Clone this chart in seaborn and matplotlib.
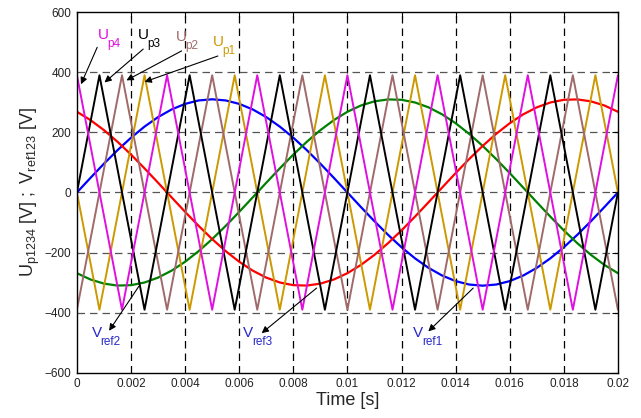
import matplotlib
matplotlib.use("Agg")
import matplotlib.pyplot as plt
import seaborn as sns
import pandas as pd
import numpy as np

# ---- data ----
t_ref = [round(0.0005 * k, 4) for k in range(41)]
v_ref1 = [0, 48.5, 95.8, 140.7, 182.2, 219.2, 250.8, 276.2, 294.8, 306.2, 310,
          306.2, 294.8, 276.2, 250.8, 219.2, 182.2, 140.7, 95.8, 48.5, 0,
          -48.5, -95.8, -140.7, -182.2, -219.2, -250.8, -276.2, -294.8, -306.2, -310,
          -306.2, -294.8, -276.2, -250.8, -219.2, -182.2, -140.7, -95.8, -48.5, 0]
v_ref3 = [268.5, 240.9, 207.4, 168.8, 126.1, 80.2, 32.4, -16.2, -64.5, -111.1, -155,
          -195.1, -230.4, -260.0, -283.2, -299.4, -308.3, -309.6, -303.2, -289.4, -268.5,
          -240.9, -207.4, -168.8, -126.1, -80.2, -32.4, 16.2, 64.5, 111.1, 155,
          195.1, 230.4, 260.0, 283.2, 299.4, 308.3, 309.6, 303.2, 289.4, 268.5]
v_ref2 = [-268.5, -289.4, -303.2, -309.6, -308.3, -299.4, -283.2, -260.0, -230.4, -195.1, -155,
          -111.1, -64.5, -16.2, 32.4, 80.2, 126.1, 168.8, 207.4, 240.9, 268.5,
          289.4, 303.2, 309.6, 308.3, 299.4, 283.2, 260.0, 230.4, 195.1, 155,
          111.1, 64.5, 16.2, -32.4, -80.2, -126.1, -168.8, -207.4, -240.9, -268.5]

t_up4 = [0, 0.001667, 0.003333, 0.005, 0.006667, 0.008333, 0.01, 0.011667,
         0.013333, 0.015, 0.016667, 0.018333, 0.02]
u_p4 = [390, -390, 390, -390, 390, -390, 390, -390, 390, -390, 390, -390, 390]
t_up2 = t_up4
u_p2 = [-390, 390, -390, 390, -390, 390, -390, 390, -390, 390, -390, 390, -390]
t_up3 = [0, 0.000833, 0.0025, 0.004167, 0.005833, 0.0075, 0.009167, 0.010833,
         0.0125, 0.014167, 0.015833, 0.0175, 0.019167, 0.02]
u_p3 = [0, 390, -390, 390, -390, 390, -390, 390, -390, 390, -390, 390, -390, 0]
t_up1 = t_up3
u_p1 = [0, -390, 390, -390, 390, -390, 390, -390, 390, -390, 390, -390, 390, 0]

x_ticks = [0, 0.002, 0.004, 0.006, 0.008, 0.01, 0.012, 0.014, 0.016, 0.018, 0.02]
x_tick_labels = ["0", "0.002", "0.004", "0.006", "0.008", "0.01", "0.012",
                 "0.014", "0.016", "0.018", "0.02"]
y_ticks = [-600, -400, -200, 0, 200, 400, 600]

# ---- style ----
sns.set_theme(style="white")
plt.rcParams["font.family"] = ["Liberation Sans", "DejaVu Sans"]
plt.rcParams["mathtext.fontset"] = "custom"
plt.rcParams["mathtext.rm"] = "Liberation Sans"
plt.rcParams["mathtext.it"] = "Liberation Sans"

fig = plt.figure(figsize=(6.41, 4.18), dpi=100)
ax = fig.add_axes([0.120, 0.108, 0.844, 0.863])

ref_df = pd.DataFrame({"t": t_ref * 3,
                       "v": v_ref1 + v_ref2 + v_ref3,
                       "s": ["ref1"] * 41 + ["ref2"] * 41 + ["ref3"] * 41})
sns.lineplot(data=ref_df, x="t", y="v", hue="s", estimator=None, sort=False,
             palette={"ref1": "#0000FF", "ref2": "#008000", "ref3": "#FF0000"},
             linewidth=1.6, legend=False, ax=ax)

car_df = pd.DataFrame({"t": list(t_up1) + list(t_up2) + list(t_up3) + list(t_up4),
                       "u": u_p1 + u_p2 + u_p3 + u_p4,
                       "s": ["p1"] * len(t_up1) + ["p2"] * len(t_up2)
                            + ["p3"] * len(t_up3) + ["p4"] * len(t_up4)})
sns.lineplot(data=car_df, x="t", y="u", hue="s", estimator=None, sort=False,
             palette={"p1": "#CC9900", "p2": "#A06A6A", "p3": "#000000", "p4": "#E010E0"},
             linewidth=1.4, legend=False, ax=ax)

ax.set_xlim(0, 0.02)
ax.set_ylim(-600, 600)
ax.set_xticks(x_ticks)
ax.set_xticklabels(x_tick_labels)
ax.set_yticks(y_ticks)
ax.tick_params(direction="in", length=4, width=0.8, labelsize=8.5, colors="black",
               top=True, right=True, pad=4)
for lab in ax.get_xticklabels() + ax.get_yticklabels():
    lab.set_color("#222222")

for xv in x_ticks[1:-1]:
    ax.axvline(xv, color="black", linestyle=(0, (6, 4)), linewidth=0.9, zorder=0.5)
for yv in y_ticks[1:-1]:
    ax.axhline(yv, color="#555555", linestyle=(0, (6, 4)), linewidth=0.9, zorder=0.5)

for sp in ax.spines.values():
    sp.set_color("black")
    sp.set_linewidth(1.0)

ax.set_xlabel("Time [s]", fontsize=13, labelpad=1)
ax.set_ylabel(r"$\mathregular{U_{p1234}\ [V]\ ;\ V_{ref123}\ [V]}$", fontsize=13, labelpad=2)

arrow = dict(arrowstyle="-|>", color="black", lw=0.8, mutation_scale=10,
             shrinkA=0, shrinkB=0)
# (main letter, subscript, colour, arrow tip, arrow start, label position)
ann = [
    ("U", "p4", "#E010E0", (0.00015, 360), (0.00075, 483), (0.00079, 525)),
    ("U", "p3", "#000000", (0.00102, 366), (0.00245, 477), (0.00227, 525)),
    ("U", "p2", "#A06A6A", (0.00183, 373), (0.00387, 471), (0.00366, 516)),
    ("U", "p1", "#CC9900", (0.00250, 368), (0.00521, 454), (0.00503, 500)),
    ("V", "ref2", "#2828C8", (0.00119, -460), (0.00229, -312), (0.00056, -467)),
    ("V", "ref3", "#2828C8", (0.00683, -468), (0.00886, -318), (0.00615, -467)),
    ("V", "ref1", "#2828C8", (0.01299, -462), (0.01465, -318), (0.01243, -467)),
]
for main, sub, col, tip, start, tpos in ann:
    ax.annotate("", xy=tip, xytext=start, arrowprops=arrow, zorder=5)
    ax.text(tpos[0], tpos[1], main, color=col, fontsize=11, ha="left", va="center", zorder=6)
    w = 6.6 if main == "U" else 6.2
    ax.annotate(sub, xy=tpos, xycoords="data", xytext=(w, -6.5), textcoords="offset points",
                color=col, fontsize=8.5, ha="left", va="center", zorder=6)

fig.savefig("out.png", dpi=100)
